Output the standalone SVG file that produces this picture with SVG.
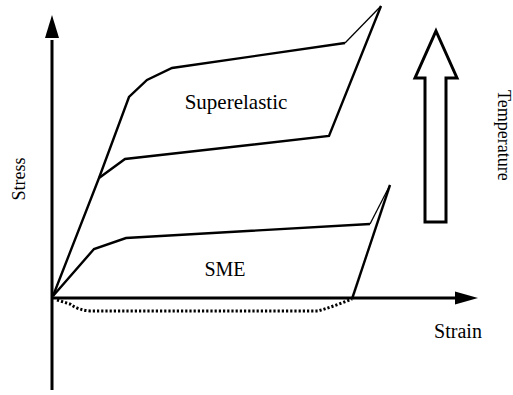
<svg xmlns="http://www.w3.org/2000/svg" width="513" height="395" viewBox="0 0 513 395">
<style>
.t{font-family:"Liberation Serif","Times New Roman",serif;fill:#000}
.c{fill:none;stroke:#000;stroke-width:2.4;stroke-linejoin:miter}
.thin{fill:none;stroke:#000;stroke-width:1.3}
.ax{fill:none;stroke:#000;stroke-width:3}
</style>
<rect width="513" height="395" fill="#fff"/>
<g id="connectors">
<line class="ax" x1="52" y1="390" x2="52" y2="40" />
<path d="M52,15 L59,38 L45,38 Z" fill="#000"/>
<line class="ax" x1="52" y1="298" x2="456" y2="298" />
<path d="M478,298 L455,291.5 L455,304.5 Z" fill="#000"/>
</g>
<g id="superelastic-loop">
<path class="c" d="M53,296 L99,178 L129,97 L147,80 L172,68 L345,43"/>
<path class="thin" d="M345,43 L381,6"/>
<path class="c" d="M381,6 L329,136 L125,159 L99,178"/>
</g>
<g id="sme-loop">
<path class="c" d="M53,296 L94,249 L126,238 L370,224"/>
<path class="thin" d="M370,224 L390,185"/>
<path class="c" d="M390,185 L352,299"/>
<path fill="none" stroke="#000" stroke-width="3" stroke-dasharray="2.2 2" d="M57,300 L70,304 Q78,310 90,311 L318,311 Q335,306 352,299"/>
</g>
<g id="temperature-arrow">
<path d="M436,31 L457,78 L446,78 L446,222 L425,222 L425,78 L415,78 Z" fill="#fff" stroke="#000" stroke-width="3" stroke-linejoin="miter"/>
</g>
<g id="labels">
<text class="t" x="236" y="109" font-size="21" text-anchor="middle">Superelastic</text>
<text class="t" x="225" y="276" font-size="20" text-anchor="middle">SME</text>
<text class="t" x="458" y="338" font-size="20" text-anchor="middle">Strain</text>
<text class="t" transform="translate(25,179) rotate(-90)" font-size="18" text-anchor="middle">Stress</text>
<text class="t" transform="translate(498,90) rotate(90)" font-size="18">Temperature</text>
</g>
</svg>
